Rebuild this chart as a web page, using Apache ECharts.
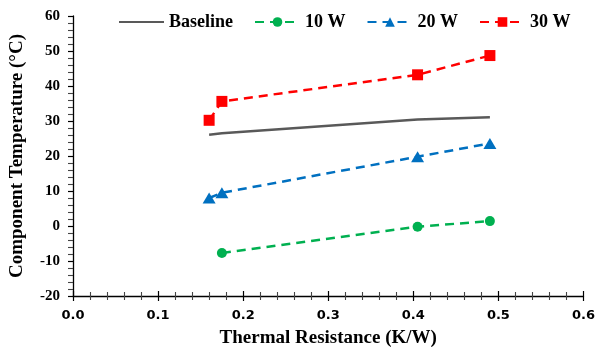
<!DOCTYPE html>
<html>
<head>
<meta charset="utf-8">
<script src="https://cdn.jsdelivr.net/npm/echarts@6/dist/echarts.min.js"></script>
<style>html,body{margin:0;padding:0;background:#fff;}#c{width:598px;height:353px;}</style>
</head>
<body>
<div id="c"></div>
<script>
const seriesNames = ['Baseline', '10 W', '20 W', '30 W'];
const baselineX = [0.16, 0.175, 0.405, 0.49];
const baselineY = [26.1, 26.5, 30.4, 31.1];
const w10X = [0.175, 0.405, 0.49];
const w10Y = [-7.7, -0.2, 1.4];
const w20X = [0.16, 0.175, 0.405, 0.49];
const w20Y = [8.0, 9.5, 19.8, 23.6];
const w30X = [0.16, 0.175, 0.405, 0.49];
const w30Y = [30.2, 35.6, 43.2, 48.7];
const xTicks = [0.0, 0.1, 0.2, 0.3, 0.4, 0.5, 0.6];
const yTicks = [-20, -10, 0, 10, 20, 30, 40, 50, 60];

const pair = (xs, ys) => xs.map((x, i) => [x, ys[i]]);
const serif = '"Liberation Serif", "Times New Roman", serif';

const chart = echarts.init(document.getElementById('c'), null, {renderer: 'canvas'});
const xBase = {
  type: 'value', min: xTicks[0], max: xTicks[xTicks.length - 1], interval: 0.1,
  splitLine: {show: false}
};
chart.setOption({
  animation: false,
  backgroundColor: '#fff',
  grid: {left: 73, right: 11, top: 16, bottom: 54},
  legend: {
    left: 113, top: 8, itemWidth: 45, itemHeight: 12, itemGap: 21,
    textStyle: {fontFamily: serif, fontWeight: 'bold', fontSize: 18, color: '#000'},
    data: seriesNames
  },
  xAxis: [
    Object.assign({}, xBase, {
      name: 'Thermal Resistance (K/W)', nameLocation: 'middle', nameGap: 33,
      nameTextStyle: {fontFamily: serif, fontWeight: 'bold', fontSize: 19, color: '#000'},
      axisLine: {onZero: false, lineStyle: {color: '#000', width: 1.3}},
      axisTick: {show: true, inside: false, length: 5, lineStyle: {color: '#000', width: 1.2}},
      minorTick: {show: true, splitNumber: 5, length: 4, lineStyle: {color: '#444', width: 1.1}},
      axisLabel: {margin: 13, fontFamily: '"DejaVu Sans", Verdana, sans-serif', fontWeight: 'bold', fontSize: 13, color: '#000',
        formatter: v => v.toFixed(1)}
    }),
    Object.assign({}, xBase, {
      position: 'bottom',
      axisLine: {show: false, onZero: false},
      axisTick: {show: true, inside: true, length: 5, lineStyle: {color: '#000', width: 1.2}},
      minorTick: {show: true, splitNumber: 5, length: 4, lineStyle: {color: '#444', width: 1.1}},
      axisLabel: {show: false}
    })
  ],
  yAxis: {
    type: 'value', min: yTicks[0], max: yTicks[yTicks.length - 1], interval: 10,
    name: 'Component Temperature (\u00B0C)', nameLocation: 'middle', nameGap: 46,
    nameTextStyle: {fontFamily: serif, fontWeight: 'bold', fontSize: 19, color: '#000'},
    splitLine: {show: false},
    axisLine: {show: true, onZero: false, lineStyle: {color: '#000', width: 1.3}},
    axisTick: {show: true, inside: false, length: 5, lineStyle: {color: '#000', width: 1.2}},
    minorTick: {show: true, splitNumber: 5, length: 5, lineStyle: {color: '#444', width: 1.1}},
    axisLabel: {margin: 13, fontFamily: serif, fontWeight: 'bold', fontSize: 15, color: '#000'}
  },
  series: [
    {
      name: seriesNames[0], type: 'line', data: pair(baselineX, baselineY),
      showSymbol: false, symbol: 'none', color: '#595959',
      itemStyle: {opacity: 0},
      lineStyle: {color: '#595959', width: 2.5, type: 'solid'}
    },
    {
      name: seriesNames[1], type: 'line', data: pair(w10X, w10Y),
      symbol: 'circle', symbolSize: 10, color: '#00B050',
      itemStyle: {color: '#00B050'},
      lineStyle: {color: '#00B050', width: 2.5, type: [9, 6]}
    },
    {
      name: seriesNames[2], type: 'line', data: pair(w20X, w20Y),
      symbol: 'triangle', symbolSize: [13, 11], color: '#0070C0',
      itemStyle: {color: '#0070C0'},
      lineStyle: {color: '#0070C0', width: 2.5, type: [9, 6]}
    },
    {
      name: seriesNames[3], type: 'line', data: pair(w30X, w30Y),
      symbol: 'rect', symbolSize: 11, color: '#FF0000',
      itemStyle: {color: '#FF0000'},
      lineStyle: {color: '#FF0000', width: 2.5, type: [9, 6]}
    }
  ]
});
</script>
</body>
</html>
